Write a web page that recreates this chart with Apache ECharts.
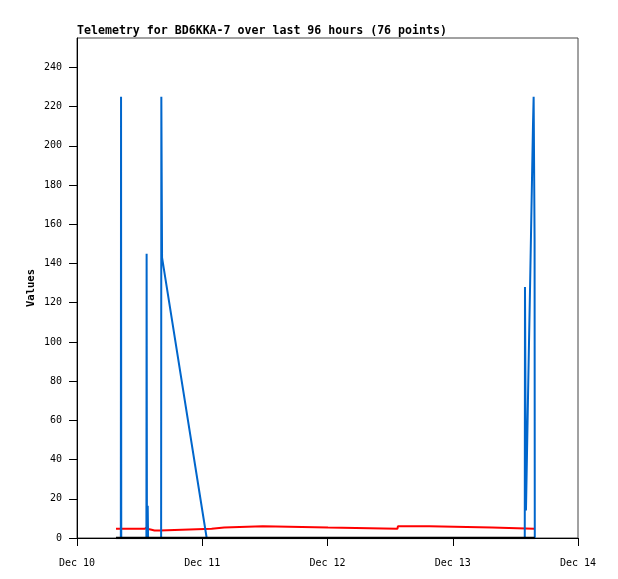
<!DOCTYPE html>
<html><head><meta charset="utf-8">
<script src="https://cdn.jsdelivr.net/npm/echarts@6/dist/echarts.min.js"></script>
<style>html,body{margin:0;padding:0;background:#fff}#c{width:618px;height:579px}</style>
</head><body><div id="c"></div>
<script>
const titleText = 'Telemetry for BD6KKA-7 over last 96 hours (76 points)';
const yAxisName = 'Values';
const xTickLabels = ['Dec 10', 'Dec 11', 'Dec 12', 'Dec 13', 'Dec 14'];
const yTicks = [0, 20, 40, 60, 80, 100, 120, 140, 160, 180, 200, 220, 240];

// time in hours since Dec 10 00:00
const redHours  = [7.47, 12.95, 13.05, 13.55, 13.65, 14.3, 14.85, 15.85, 15.95, 25.8, 25.9, 28.2, 28.3, 35.6, 35.7, 48.1, 48.2, 61.4, 61.5, 67.5, 67.6, 79.5, 79.6, 87.6];
const redValues = [4.7,  4.7,   5.7,   5.7,   4.6,   4.2,  3.8,   3.8,   4.7,   4.7,  5.3,  5.3,  6.0,  6.0,  5.3,  5.3,  4.7,  4.7,  6.0,  6.0,  5.3,  5.3,  4.7,  4.7];

const blueHours  = [7.47, 8.4, 8.44, 8.48, 13.3, 13.34, 13.4, 13.55, 13.62, 16.12, 16.16, 16.3, 24.85, 85.8, 85.84, 86.03, 86.22, 86.41, 86.6, 86.8, 86.99, 87.18, 87.37, 87.5, 87.68, 87.72];
const blueValues = [0,    0,   225,  0,    0,    145,   0,    16.5,  0,     0,     225,   143,  0,     0,    128,   14,    42,    70,    98,   126,  154,   182,   210,   225,  152,   0];

const blackHours  = [7.47, 87.72];
const blackValues = [0, 0];

const pairs = (xs, ys) => xs.map((x, i) => [x, ys[i]]);
const monoFont = 'DejaVu Sans Mono';

const chart = echarts.init(document.getElementById('c'), null, {renderer: 'canvas'});
chart.setOption({
  backgroundColor: '#ffffff',
  animation: false,
  title: {
    text: titleText, left: 77, top: 25, padding: 0,
    textStyle: {fontFamily: monoFont, fontSize: 11.6, fontWeight: 'bold', color: '#000'}
  },
  grid: {left: 77, right: 40, top: 38, bottom: 41, show: true, borderColor: '#444', borderWidth: 1, backgroundColor: 'transparent'},
  xAxis: {
    type: 'value', min: 0, max: 96, interval: 24,
    axisLine: {show: true, onZero: false, lineStyle: {color: '#000', width: 1}},
    axisTick: {show: true, length: 8, lineStyle: {color: '#000'}},
    axisLabel: {margin: 20, fontFamily: monoFont, fontSize: 10, color: '#000',
      formatter: v => xTickLabels[Math.round(v / 24)]},
    splitLine: {show: false}
  },
  yAxis: {
    type: 'value', min: 0, max: 255, interval: 20,
    name: yAxisName, nameLocation: 'middle', nameGap: 40, nameMoveOverlap: false,
    nameTextStyle: {fontFamily: monoFont, fontSize: 10.5, fontWeight: 'bold', color: '#000'},
    axisLine: {show: true, lineStyle: {color: '#000', width: 1}},
    axisTick: {show: true, length: 8, lineStyle: {color: '#000'}, customValues: yTicks},
    axisLabel: {margin: 15, fontFamily: monoFont, fontSize: 10, color: '#000', customValues: yTicks},
    splitLine: {show: false}
  },
  series: [
    {type: 'line', data: pairs(redHours, redValues), showSymbol: false, lineStyle: {color: '#ff0000', width: 2}, z: 2},
    {type: 'line', data: pairs(blueHours, blueValues), showSymbol: false, lineStyle: {color: '#0066cc', width: 2}, z: 3},
    {type: 'line', data: pairs(blackHours, blackValues), showSymbol: false, lineStyle: {color: '#000000', width: 2.5}, z: 4}
  ]
});
</script></body></html>
